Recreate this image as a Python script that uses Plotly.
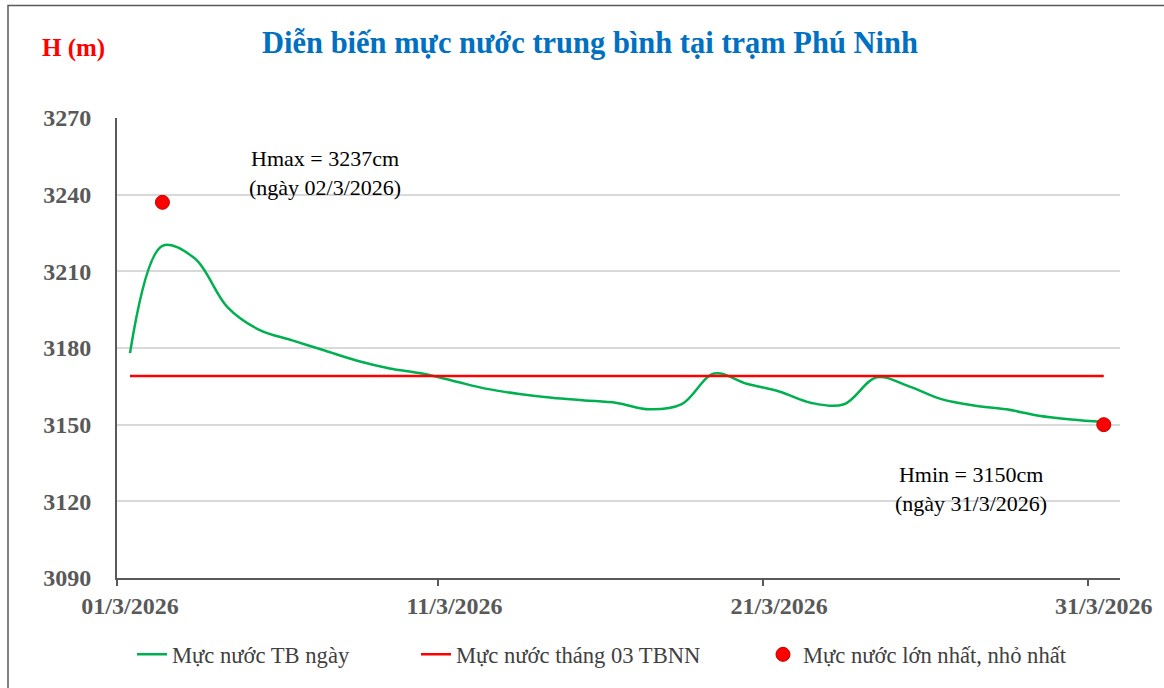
import plotly.graph_objects as go

# ---- data ----
days = list(range(1, 32))
water_level = [3178, 3220, 3215, 3196, 3187, 3183, 3179, 3175, 3172, 3170,
               3167, 3164, 3162, 3160.5, 3159.5, 3158.5, 3156, 3158, 3170, 3166,
               3163, 3158.5, 3158, 3168.5, 3165, 3160, 3157.5, 3156, 3153.5, 3152,
               3151]
tbnn_level = [3169] * 31
extreme_days = [2, 31]
extreme_values = [3237, 3150]
tick_days = [1, 11, 21, 31]
tick_labels = ["01/3/2026", "11/3/2026", "21/3/2026", "31/3/2026"]
y_ticks = [3090, 3120, 3150, 3180, 3210, 3240, 3270]

W, H = 1164, 688
L, R, T, B = 117, 44, 118, 108
PW, PH = W - L - R, H - T - B


def px_x(px):
    return (px - L) / PW


def px_y(py):
    return (H - B - py) / PH


FONT = "Liberation Serif, Times New Roman, serif"
AXIS_COL = "#595959"

fig = go.Figure()

fig.add_trace(go.Scatter(
    x=days, y=water_level, mode="lines", name="Mực nước TB ngày",
    line=dict(color="#00B050", width=2.5, shape="spline", smoothing=1),
    legend="legend", showlegend=True))
fig.add_trace(go.Scatter(
    x=days, y=tbnn_level, mode="lines", name="Mực nước tháng 03 TBNN",
    line=dict(color="#FF0000", width=2.5),
    legend="legend2", showlegend=True))
fig.add_trace(go.Scatter(
    x=extreme_days, y=extreme_values, mode="markers",
    name="Mực nước lớn nhất, nhỏ nhất",
    marker=dict(color="#FF0000", size=14, line=dict(color="#C00000", width=1)),
    legend="legend3", showlegend=True))

leg_common = dict(orientation="h", xanchor="left", yanchor="middle",
                  font=dict(family=FONT, size=22.6, color="#404040"),
                  bgcolor="rgba(0,0,0,0)")

fig.update_layout(
    width=W, height=H,
    margin=dict(l=L, r=R, t=T, b=B),
    paper_bgcolor="white", plot_bgcolor="white",
    font=dict(family=FONT),
    showlegend=True,
    title=dict(text="<b>Diễn biến mực nước trung bình tại trạm Phú Ninh</b>",
               font=dict(family=FONT, size=30.5, color="#0070C0"),
               x=590 / W, xanchor="center", xref="container",
               y=1 - 42 / H, yanchor="middle", yref="container"),
    xaxis=dict(range=[0.6, 31.5], tickmode="array", tickvals=tick_days,
               ticktext=tick_labels, ticks="", showgrid=False, zeroline=False,
               showline=True, linecolor=AXIS_COL, linewidth=2,
               ticklabelstandoff=5,
               tickfont=dict(family=FONT, size=24, color=AXIS_COL, weight="bold"),
               minor=dict(tickmode="array", tickvals=[0.6, 10.5, 20.5, 30.5],
                          ticks="outside", ticklen=6, tickwidth=2,
                          tickcolor=AXIS_COL, showgrid=False)),
    yaxis=dict(range=[3090, 3270], tickmode="array", tickvals=y_ticks,
               ticks="", showgrid=True, gridcolor="#D9D9D9", gridwidth=2,
               zeroline=False, showline=True, linecolor=AXIS_COL, linewidth=2,
               ticklabelstandoff=19,
               tickfont=dict(family=FONT, size=24, color=AXIS_COL, weight="bold")),
    legend=dict(x=px_x(132), y=px_y(657), **leg_common),
    legend2=dict(x=px_x(416), y=px_y(657), **leg_common),
    legend3=dict(x=px_x(763), y=px_y(657), **leg_common),
    annotations=[
        dict(text="<b>H (m)</b>", xref="paper", yref="paper",
             x=px_x(73), y=px_y(48), xanchor="center", yanchor="middle",
             showarrow=False, font=dict(family=FONT, size=25, color="#FF0000")),
        dict(text="Hmax = 3237cm<br>(ngày 02/3/2026)", xref="x", yref="y",
             x=7.0, y=3248.6, xanchor="center", yanchor="middle",
             showarrow=False, font=dict(family=FONT, size=22, color="#000000")),
        dict(text="Hmin = 3150cm<br>(ngày 31/3/2026)", xref="x", yref="y",
             x=26.9, y=3125, xanchor="center", yanchor="middle",
             showarrow=False, font=dict(family=FONT, size=22, color="#000000")),
    ],
    shapes=[
        dict(type="rect", xref="paper", yref="paper",
             x0=px_x(8), x1=px_x(1200), y0=px_y(720), y1=px_y(5),
             line=dict(color="#595959", width=1.5), fillcolor="rgba(0,0,0,0)",
             layer="below"),
    ],
)

fig.write_html("out.html",
               config={"displayModeBar": False},
               post_script="document.body.style.margin='0';"
                           "document.body.style.overflow='hidden';")
